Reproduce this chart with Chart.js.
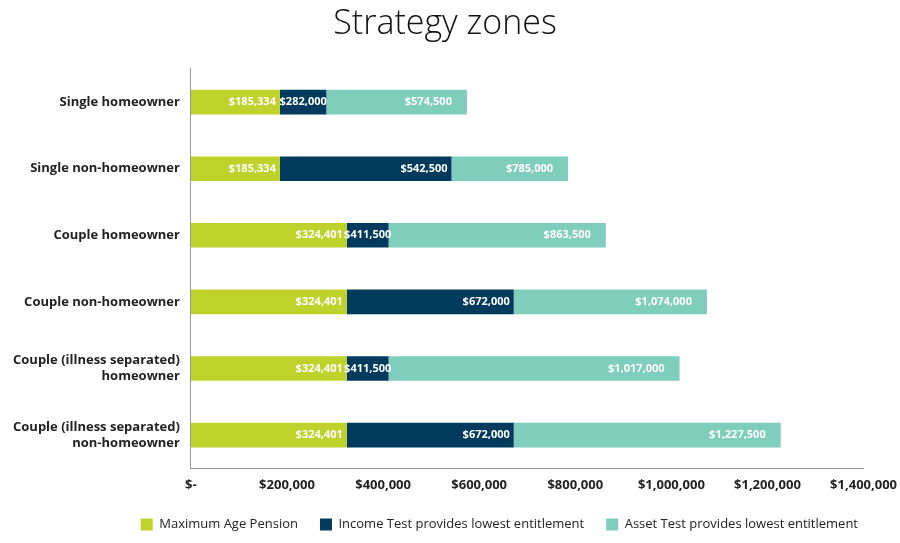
<!DOCTYPE html><html><head><script src="https://cdn.jsdelivr.net/npm/chart.js"></script>
<style>body{margin:0;background:#fff}#w{width:900px;height:543px}</style></head><body><div id="w"><canvas id="c"></canvas></div>
<script>
const categories=[["Single homeowner"],["Single non-homeowner"],["Couple homeowner"],["Couple non-homeowner"],["Couple (illness separated)","homeowner"],["Couple (illness separated)","non-homeowner"]];
const maxPension=[185334,185334,324401,324401,324401,324401];
const incomeTestEnd=[282000,542500,411500,672000,411500,672000];
const assetTestEnd=[574500,785000,863500,1074000,1017000,1227500];
const seriesNames=["Maximum Age Pension","Income Test provides lowest entitlement","Asset Test provides lowest entitlement"];
const ends=[maxPension,incomeTestEnd,assetTestEnd];
const colors=["#bfd22b","#003a5d","#7fcdbb"];
const fmt=v=>"$"+v.toLocaleString("en-US");
const datasets=ends.map((e,i)=>({label:seriesNames[i],backgroundColor:colors[i],data:e.map((v,j)=>v-(i?ends[i-1][j]:0)),barPercentage:0.37,categoryPercentage:1}));
const lbl={id:"lbl",afterDatasetsDraw(ch){const c=ch.ctx;c.save();c.font="bold 11px 'Open Sans'";c.fillStyle="#fff";c.textBaseline="middle";
ch.data.datasets.forEach((d,i)=>{ch.getDatasetMeta(i).data.forEach((b,j)=>{const t=fmt(ends[i][j]);const w=c.measureText(t).width;const l=b.base,r=b.x;
if(r-l<w+8){c.textAlign="center";c.fillText(t,(l+r)/2,b.y);}else{c.textAlign="right";c.fillText(t,r-(i==2?15:4),b.y);}});});c.restore();}};
new Chart(document.getElementById("c"),{type:"bar",data:{labels:categories,datasets},plugins:[lbl],
options:{indexAxis:"y",responsive:true,maintainAspectRatio:false,animation:false,
layout:{padding:{left:10,right:20,top:0,bottom:2}},
plugins:{title:{display:true,text:"Strategy zones",font:{size:34,family:"'Open Sans'",weight:"300"},color:"#111",padding:{top:4,bottom:24}},
legend:{position:"bottom",labels:{boxWidth:12,boxHeight:12,font:{size:13,family:"'Open Sans'"},color:"#222",padding:22},align:"end"},tooltip:{enabled:false}},
scales:{x:{stacked:true,min:0,max:1400000,ticks:{stepSize:200000,callback:v=>v===0?"$-":fmt(v),font:{size:13,weight:"bold",family:"'Open Sans'"},color:"#222"},grid:{display:false,drawTicks:true,tickLength:6,color:"#999"},border:{color:"#999"}},
y:{stacked:true,ticks:{font:{size:13,weight:"bold",family:"'Open Sans'"},color:"#222"},grid:{display:false},border:{color:"#999"}}}}});
</script></body></html>
